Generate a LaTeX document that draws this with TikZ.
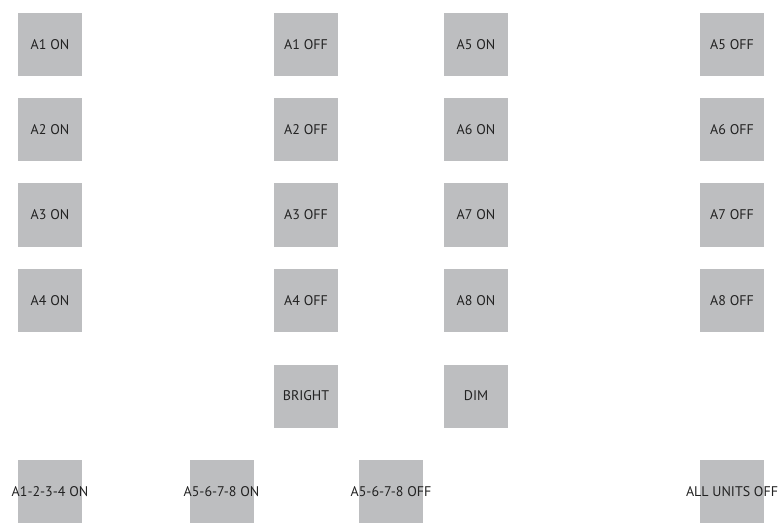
\documentclass[tikz,border=0pt]{standalone}
\usepackage{fontspec}
\setmainfont{PT Sans}
\usepackage{tikz}
\usetikzlibrary{positioning}
\definecolor{keygray}{HTML}{BDBEC0}
\definecolor{keytext}{HTML}{222222}

\begin{document}
\begin{tikzpicture}[x=1pt, y=-1pt,
    btn/.style={fill=keygray, draw=none, minimum width=64pt, minimum height=63pt, inner sep=0pt, text=keytext, font=\fontsize{14}{16}\selectfont},
    txt/.style={draw=none, inner sep=0pt, text=keytext, font=\fontsize{14}{16}\selectfont}]
\useasboundingbox (0,0) rectangle (778,529);

% ON column
\node[btn] (a1on) at (50,44.5) {A1 ON};
\node[btn] (a2on) at (50,129.5) {A2 ON};
\node[btn] (a3on) at (50,215) {A3 ON};
\node[btn] (a4on) at (50,300.5) {A4 ON};

% OFF column
\node[btn] (a1off) at (306,44.5) {A1 OFF};
\node[btn] (a2off) at (306,129.5) {A2 OFF};
\node[btn] (a3off) at (306,215) {A3 OFF};
\node[btn] (a4off) at (306,300.5) {A4 OFF};
\node[btn] (bright) at (306,396) {BRIGHT};

% A5-A8 ON column
\node[btn] (a5on) at (476,44.5) {A5 ON};
\node[btn] (a6on) at (476,129.5) {A6 ON};
\node[btn] (a7on) at (476,215) {A7 ON};
\node[btn] (a8on) at (476,300.5) {A8 ON};
\node[btn] (dim) at (476,396) {DIM};

% A5-A8 OFF column
\node[btn] (a5off) at (732,44.5) {A5 OFF};
\node[btn] (a6off) at (732,129.5) {A6 OFF};
\node[btn] (a7off) at (732,215) {A7 OFF};
\node[btn] (a8off) at (732,300.5) {A8 OFF};

% group keys, labels wider than the keys
\node[btn] (grpAon) at (50,491.5) {};
\node[txt] at (grpAon) {A1-2-3-4 ON};
\node[btn] (grpBon) at (221.5,491.5) {};
\node[txt] at (grpBon) {A5-6-7-8 ON};
\node[btn] (grpBoff) at (391,491.5) {};
\node[txt] at (grpBoff) {A5-6-7-8 OFF};
\node[btn] (alloff) at (732,491.5) {};
\node[txt] at (alloff) {ALL UNITS OFF};

\end{tikzpicture}
\end{document}
